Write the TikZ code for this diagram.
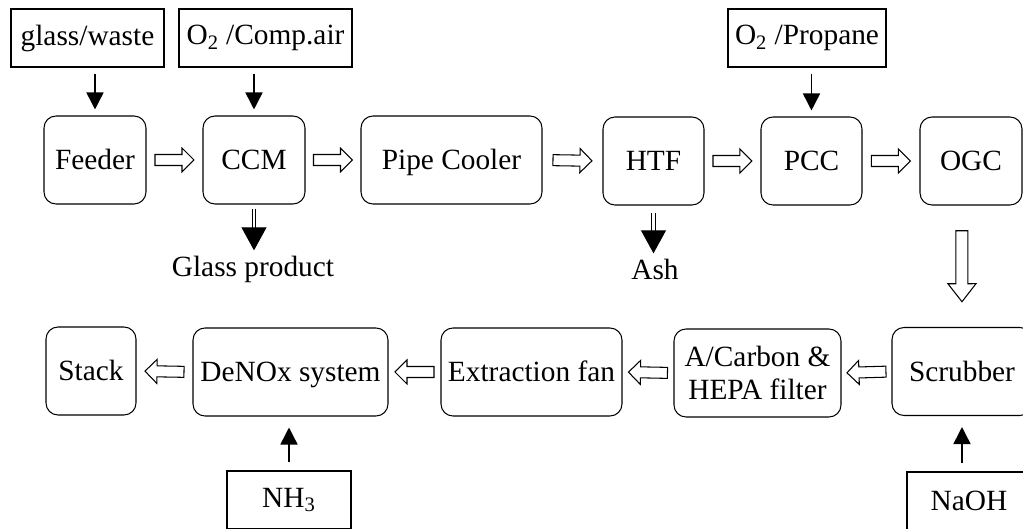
\documentclass[tikz,border=0pt]{standalone}
\usepackage{fontspec}
\setmainfont{Liberation Serif}
\usetikzlibrary{arrows.meta,calc}

\tikzset{
  every node/.style={font=\fontsize{16.7}{19}\selectfont},
  unit/.style={draw, rounded corners=0.24cm, line width=0.6pt, minimum height=1.76cm, text height=15.2pt, text depth=4.2pt},
  feed/.style={draw, line width=0.6pt, minimum height=1.16cm},
  feedarrow/.style={line width=0.9pt, -{Triangle[length=0.34cm,width=0.34cm]}},
  prodarrow/.style={double, double distance=0.05cm, line width=0.5pt, -{Triangle[length=0.46cm,width=0.5cm]}},
  fat/.style={draw, fill=white, line width=0.6pt, line join=miter}
}

% hollow block arrow, centred between two anchors (sizes in picture units, scale 0.2)
\newcommand{\falen}{1.95cm}
\newcommand{\fashaft}{0.55cm}
\newcommand{\fahead}{1.2cm}
\newcommand{\fahl}{1.2cm}
\newcommand{\fatarrow}[2]{%
  \coordinate (fa-m) at ($(#1)!0.5!(#2)$);
  \coordinate (fa-a) at ($(fa-m)!\falen!(#1)$);
  \coordinate (fa-b) at ($(fa-m)!\falen!(#2)$);
  \coordinate (fa-h) at ($(fa-b)!\fahl!(fa-a)$);
  \draw [fat] ($(fa-a)!\fashaft!90:(fa-b)$) -- ($(fa-h)!\fashaft!90:(fa-b)$)
    -- ($(fa-h)!\fahead!90:(fa-b)$) -- (fa-b) -- ($(fa-h)!\fahead!-90:(fa-b)$)
    -- ($(fa-h)!\fashaft!-90:(fa-b)$) -- ($(fa-a)!\fashaft!-90:(fa-b)$) -- cycle;}

\begin{document}
\begin{tikzpicture}[scale=0.2]
\clip (0,0) rectangle (102.3,-52.9);
% inputs
\node [feed, minimum width=3.06cm] (glasswaste) at (8.75,-3.8) {glass/waste};
\node [feed, minimum width=3.46cm] (compair) at (26.55,-3.8) {O\textsubscript{2} /Comp.air};
\node [feed, minimum width=3.16cm] (propane) at (80.7,-3.8) {O\textsubscript{2} /Propane};
\node [feed, minimum width=2.48cm] (nh3) at (28.9,-50) {NH\textsubscript{3}};
\node [feed, minimum width=2.48cm] (naoh) at (96.9,-50.1) {NaOH};
% first line
\node [unit, minimum width=2.04cm] (feeder) at (9.5,-16) {Feeder};
\node [unit, minimum width=2.04cm] (ccm) at (25.4,-16) {CCM};
\node [unit, minimum width=3.62cm] (pipe) at (45.15,-16) {Pipe Cooler};
\node [unit, minimum width=2.02cm] (htf) at (65.35,-16.1) {HTF};
\node [unit, minimum width=2.02cm] (pcc) at (81.15,-16.1) {PCC};
\node [unit, minimum width=2.04cm] (ogc) at (97.1,-16.1) {OGC};
% second line
\node [unit, minimum width=1.8cm] (stack) at (9.1,-37.1) {Stack};
\node [unit, minimum width=3.9cm] (denox) at (29.05,-37.2) {DeNOx system};
\node [unit, minimum width=3.62cm] (fan) at (53.15,-37.2) {Extraction fan};
\node [unit, minimum width=3.34cm, text height=, text depth=, align=center] (filter) at (75.75,-37.3) {A/Carbon \&\\HEPA filter};
\node [unit, minimum width=2.8cm] (scrubber) at (96.2,-37.15) {Scrubber};
% outputs
\node [inner sep=0pt] (glassout) at (25.3,-26.9) {Glass product};
\node [inner sep=0pt] (ash) at (65.5,-26.9) {Ash};

\draw [feedarrow, shorten <=0.12cm, shorten >=0.12cm] (feeder.north |- glasswaste.south) -- (feeder.north);
\draw [feedarrow, shorten <=0.12cm, shorten >=0.12cm] (ccm.north |- compair.south) -- (ccm.north);
\draw [feedarrow, shorten <=0.12cm, shorten >=0.12cm] (pcc.north |- propane.south) -- (pcc.north);
\draw [feedarrow, shorten <=0.16cm, shorten >=0.22cm] (nh3.north) -- (nh3.north |- denox.south);
\draw [feedarrow, shorten <=0.16cm, shorten >=0.22cm] (scrubber.south |- naoh.north) -- (scrubber.south);

\draw [prodarrow, shorten <=0.08cm, shorten >=0.1cm] (ccm.south) -- (glassout.north -| ccm.south);
\draw [prodarrow, shorten <=0.14cm, shorten >=0.1cm] (htf.south) -- (ash.north -| htf.south);

\fatarrow{feeder.east}{ccm.west}
\fatarrow{ccm.east}{pipe.west}
\fatarrow{pipe.east}{htf.west}
\fatarrow{htf.east}{pcc.west}
\fatarrow{pcc.east}{ogc.west}
\fatarrow{scrubber.west}{filter.east}
\fatarrow{filter.west}{fan.east}
\fatarrow{fan.west}{denox.east}
\fatarrow{denox.west}{stack.east}
\begin{scope}
\renewcommand{\falen}{3.55cm}
\renewcommand{\fashaft}{0.6cm}
\renewcommand{\fahead}{1.4cm}
\renewcommand{\fahl}{1.8cm}
\coordinate (ogcout) at (scrubber.north |- ogc.south);
\fatarrow{ogcout}{scrubber.north}
\end{scope}
\end{tikzpicture}
\end{document}
